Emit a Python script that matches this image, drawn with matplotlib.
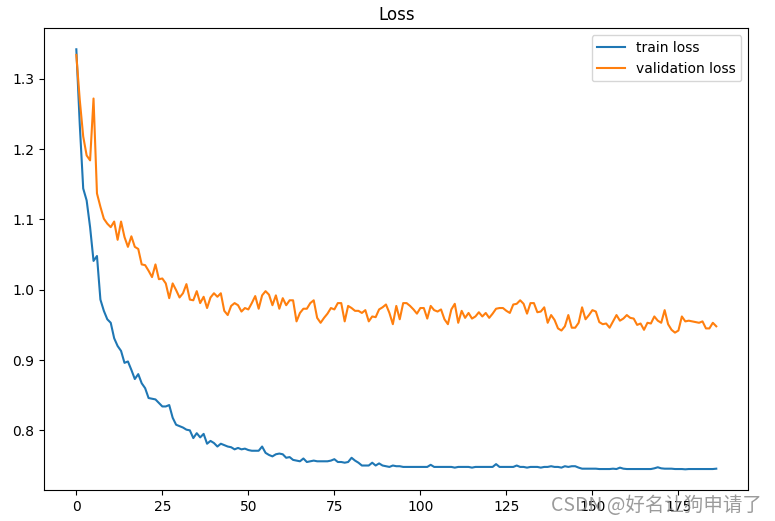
import matplotlib
matplotlib.use("Agg")
import matplotlib.pyplot as plt

# loss per epoch
train_loss = [
    1.342, 1.235, 1.144, 1.127, 1.089, 1.041, 1.048, 0.986, 0.970, 0.958,
    0.953, 0.931, 0.920, 0.913, 0.896, 0.898, 0.886, 0.873, 0.880, 0.867,
    0.860, 0.846, 0.845, 0.844, 0.839, 0.834, 0.834, 0.836, 0.818, 0.808,
    0.806, 0.804, 0.801, 0.800, 0.789, 0.796, 0.790, 0.795, 0.781, 0.785,
    0.782, 0.777, 0.781, 0.779, 0.777, 0.776, 0.773, 0.775, 0.773, 0.774,
    0.772, 0.771, 0.771, 0.771, 0.777, 0.768, 0.765, 0.763, 0.766, 0.767,
    0.766, 0.761, 0.762, 0.758, 0.757, 0.756, 0.760, 0.755, 0.756, 0.757,
    0.756, 0.756, 0.756, 0.756, 0.757, 0.759, 0.755, 0.755, 0.754, 0.755,
    0.761, 0.757, 0.754, 0.750, 0.750, 0.750, 0.754, 0.750, 0.753, 0.750,
    0.749, 0.748, 0.750, 0.749, 0.749, 0.748, 0.748, 0.748, 0.748, 0.748,
    0.748, 0.748, 0.748, 0.751, 0.748, 0.748, 0.748, 0.748, 0.748, 0.748,
    0.747, 0.748, 0.748, 0.748, 0.748, 0.747, 0.748, 0.748, 0.748, 0.748,
    0.748, 0.748, 0.752, 0.748, 0.748, 0.748, 0.748, 0.748, 0.750, 0.748,
    0.748, 0.747, 0.748, 0.748, 0.748, 0.747, 0.748, 0.748, 0.749, 0.748,
    0.748, 0.747, 0.749, 0.748, 0.749, 0.749, 0.747, 0.7455, 0.7455, 0.7455,
    0.7455, 0.7455, 0.745, 0.745, 0.745, 0.745, 0.7455, 0.745, 0.747, 0.7455,
    0.745, 0.745, 0.745, 0.745, 0.745, 0.745, 0.745, 0.745, 0.746, 0.7475,
    0.746, 0.7455, 0.7455, 0.7455, 0.745, 0.745, 0.745, 0.7446, 0.745, 0.745,
    0.745, 0.745, 0.745, 0.745, 0.745, 0.745, 0.7455,
]

val_loss = [
    1.334, 1.270, 1.218, 1.191, 1.184, 1.272, 1.137, 1.118, 1.101, 1.094,
    1.089, 1.097, 1.071, 1.097, 1.075, 1.061, 1.076, 1.061, 1.058, 1.036,
    1.035, 1.027, 1.018, 1.036, 1.015, 1.016, 1.009, 0.988, 1.009, 0.9995,
    0.989, 0.995, 1.008, 0.986, 0.985, 0.998, 0.981, 0.990, 0.974, 0.989,
    0.995, 0.990, 0.995, 0.970, 0.964, 0.977, 0.981, 0.978, 0.969, 0.974,
    0.972, 0.981, 0.991, 0.973, 0.992, 0.998, 0.993, 0.978, 0.992, 0.973,
    0.988, 0.978, 0.985, 0.985, 0.955, 0.967, 0.973, 0.973, 0.981, 0.985,
    0.960, 0.953, 0.960, 0.966, 0.974, 0.972, 0.981, 0.981, 0.955, 0.977,
    0.974, 0.970, 0.970, 0.967, 0.971, 0.955, 0.962, 0.961, 0.972, 0.975,
    0.979, 0.967, 0.951, 0.977, 0.958, 0.981, 0.981, 0.977, 0.972, 0.966,
    0.974, 0.974, 0.959, 0.977, 0.971, 0.969, 0.972, 0.958, 0.951, 0.972,
    0.980, 0.953, 0.970, 0.960, 0.967, 0.959, 0.962, 0.968, 0.962, 0.967,
    0.960, 0.966, 0.973, 0.974, 0.974, 0.970, 0.967, 0.979, 0.980, 0.985,
    0.980, 0.966, 0.981, 0.981, 0.968, 0.969, 0.975, 0.953, 0.964, 0.957,
    0.945, 0.942, 0.948, 0.964, 0.946, 0.946, 0.953, 0.975, 0.958, 0.964,
    0.971, 0.969, 0.954, 0.951, 0.952, 0.946, 0.955, 0.964, 0.956, 0.959,
    0.964, 0.960, 0.959, 0.950, 0.952, 0.943, 0.953, 0.952, 0.962, 0.956,
    0.953, 0.971, 0.951, 0.943, 0.939, 0.942, 0.962, 0.955, 0.956, 0.955,
    0.954, 0.953, 0.955, 0.945, 0.945, 0.953, 0.948,
]

fig = plt.figure(figsize=(7.75, 5.21), dpi=100)
ax = fig.add_axes([0.0572, 0.0589, 0.9083, 0.8868])

ax.plot(train_loss, label="train loss")
ax.plot(val_loss, label="validation loss")
ax.set_title("Loss")
ax.legend(loc="upper right")

# CSDN watermark in the bottom right corner, over the tick labels as in the original
fig.text(0.711, 0.019, "CSDN @好名让狗申请了", fontsize=14, color="#8a8a8a",
         alpha=0.85, family=["Noto Sans CJK SC", "DejaVu Sans"])

fig.savefig("out.png", dpi=100)
